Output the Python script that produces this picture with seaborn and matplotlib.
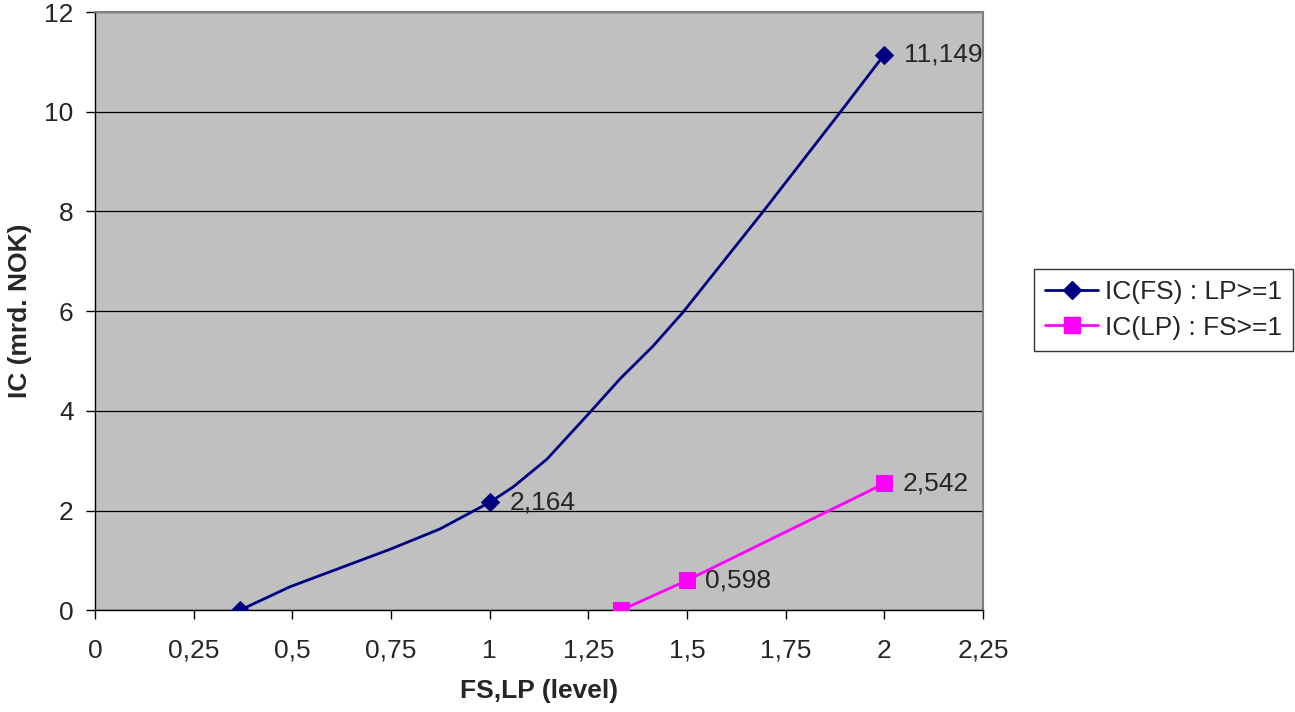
import numpy as np
import pandas as pd
import matplotlib
matplotlib.use("Agg")
import matplotlib.pyplot as plt
from matplotlib.lines import Line2D
import seaborn as sns

# IC(FS) : LP>=1  (smoothed curve, markers only on the labelled points)
fs_x = [0.367, 0.494, 0.747, 0.874, 1.0, 1.059, 1.145, 1.254, 1.33, 1.414, 1.49, 1.692, 1.888, 2.0]
fs_y = [0.0, 0.47, 1.22, 1.63, 2.164, 2.47, 3.03, 3.97, 4.64, 5.3, 5.98, 7.99, 9.99, 11.149]
fs_marked = [0, 4, 13]

# IC(LP) : FS>=1
lp_x = [1.333, 1.5, 2.0]
lp_y = [0.0, 0.598, 2.542]

fs_labels = {1.0: "2,164", 2.0: "11,149"}
lp_labels = {1.5: "0,598", 2.0: "2,542"}

x_ticks = [0, 0.25, 0.5, 0.75, 1, 1.25, 1.5, 1.75, 2, 2.25]
x_ticklabels = ["0", "0,25", "0,5", "0,75", "1", "1,25", "1,5", "1,75", "2", "2,25"]
y_ticks = [0, 2, 4, 6, 8, 10, 12]

blue = "#000080"
pink = "#FF00FF"
fs = 19

sns.set_style("white")
plt.rcParams['font.family'] = ['Liberation Sans', 'DejaVu Sans']

fig = plt.figure(figsize=(12.95, 7.12), dpi=100)
ax = fig.add_axes([0.0734, 0.143, 0.6857, 0.840])
ax.set_facecolor("#C0C0C0")

df_fs = pd.DataFrame({"x": fs_x, "y": fs_y})
df_lp = pd.DataFrame({"x": lp_x, "y": lp_y})

sns.lineplot(data=df_fs, x="x", y="y", ax=ax, color=blue, lw=2, sort=False,
             marker="D", markersize=9, markeredgecolor=blue, markevery=fs_marked, zorder=4)
sns.lineplot(data=df_lp, x="x", y="y", ax=ax, color=pink, lw=2, sort=False,
             marker="s", markersize=11, markeredgecolor=pink, zorder=4)

for xv, txt in fs_labels.items():
    ax.annotate(txt, (xv, fs_y[fs_x.index(xv)]), xytext=(14, 0), textcoords="offset points",
                va="center", ha="left", fontsize=fs)
for xv, txt in lp_labels.items():
    ax.annotate(txt, (xv, lp_y[lp_x.index(xv)]), xytext=(13, 0), textcoords="offset points",
                va="center", ha="left", fontsize=fs)

ax.set_xlim(0, 2.25)
ax.set_ylim(0, 12)
ax.set_xticks(x_ticks)
ax.set_xticklabels(x_ticklabels)
ax.set_yticks(y_ticks)
ax.yaxis.grid(True, color="black", lw=0.9)
ax.set_axisbelow(True)
ax.tick_params(axis="both", direction="out", length=6.5, width=1, labelsize=fs, color="black",
               bottom=True, left=True)
ax.tick_params(axis="x", pad=14)
ax.tick_params(axis="y", pad=9)
for side in ["top", "right"]:
    ax.spines[side].set_color("#808080")
    ax.spines[side].set_linewidth(1.5)
for side in ["left", "bottom"]:
    ax.spines[side].set_color("#000000")
    ax.spines[side].set_linewidth(1)

ax.set_xlabel("FS,LP (level)", fontsize=19, fontweight="bold", labelpad=12)
ax.set_ylabel("IC (mrd. NOK)", fontsize=19, fontweight="bold", labelpad=9)

handles = [
    Line2D([], [], color=blue, lw=2, marker="D", markersize=9, markeredgecolor=blue),
    Line2D([], [], color=pink, lw=2, marker="s", markersize=11, markeredgecolor=pink),
]
leg = fig.legend(handles, ["IC(FS) : LP>=1", "IC(LP) : FS>=1"], loc="center left",
                 bbox_to_anchor=(0.7985, 0.565), frameon=True, fancybox=False,
                 edgecolor="black", fontsize=fs, handlelength=2.0, handletextpad=0.25,
                 borderpad=0.42, labelspacing=0.44, borderaxespad=0)
leg.get_frame().set_linewidth(1)

fig.savefig("out.png", dpi=100)
